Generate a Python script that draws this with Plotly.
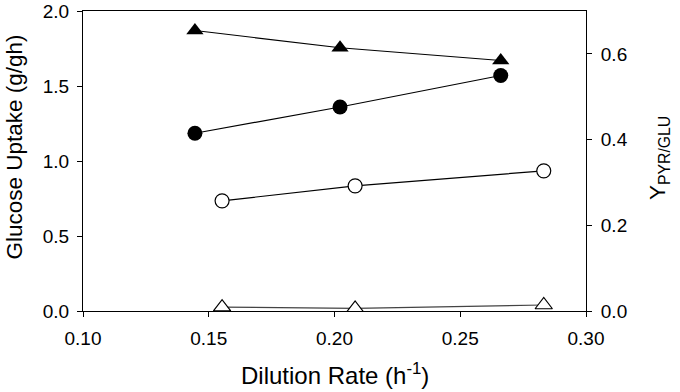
import plotly.graph_objects as go

# Data
d_filled = [0.1445, 0.2022, 0.2661]
uptake_tri = [1.87, 1.755, 1.67]
uptake_circ = [1.185, 1.36, 1.57]
d_open = [0.1553, 0.2082, 0.2832]
yield_circ = [0.257, 0.292, 0.327]
yield_tri = [0.009, 0.006, 0.014]

x_ticks = [0.10, 0.15, 0.20, 0.25, 0.30]
y_ticks = [0.0, 0.5, 1.0, 1.5, 2.0]
y2_ticks = [0.0, 0.2, 0.4, 0.6]

FONT = "Liberation Sans, Arial, sans-serif"
W, H = 680, 392
L, R, T, B = 83, 94, 11, 81
PW, PH = W - L - R, H - T - B

fig = go.Figure()

line = dict(color="black", width=1.2)
fig.add_trace(go.Scatter(x=d_filled, y=uptake_tri, mode="lines+markers", line=line,
                         marker=dict(symbol="triangle-up", size=15, color="black"), yaxis="y"))
fig.add_trace(go.Scatter(x=d_filled, y=uptake_circ, mode="lines+markers", line=line,
                         marker=dict(symbol="circle", size=15, color="black"), yaxis="y"))
fig.add_trace(go.Scatter(x=d_open, y=yield_circ, mode="lines+markers", line=line,
                         marker=dict(symbol="circle", size=14, color="white",
                                     line=dict(color="black", width=1.2)), yaxis="y2"))
fig.add_trace(go.Scatter(x=d_open, y=yield_tri, mode="lines+markers", line=dict(color="#444", width=1.2),
                         marker=dict(symbol="triangle-up", size=15, color="white",
                                     line=dict(color="black", width=1.2)), yaxis="y2"))

common = dict(showline=True, linecolor="black", linewidth=1,
              ticks="outside", ticklen=5, tickcolor="black",
              showgrid=False, zeroline=False, automargin=False,
              ticklabeloverflow="allow",
              tickfont=dict(size=19, family=FONT))

fig.update_layout(
    width=W, height=H,
    margin=dict(l=L, r=R, t=T, b=B),
    paper_bgcolor="white", plot_bgcolor="white",
    showlegend=False,
    font=dict(family=FONT, color="black"),
    xaxis=dict(range=[0.10, 0.30], tickvals=x_ticks, ticktext=[f"{v:.2f}" for v in x_ticks],
               mirror=True, ticklabelstandoff=5, **common),
    yaxis=dict(range=[0, 2.0], tickvals=y_ticks, ticktext=[f"{v:.1f}" for v in y_ticks],
               ticklabelstandoff=4, **common),
    yaxis2=dict(range=[0, 0.7], tickvals=y2_ticks, ticktext=[f"{v:.1f}" for v in y2_ticks],
                overlaying="y", side="right", ticklabelstandoff=5, **common),
    annotations=[
        dict(text="Dilution Rate (h<sup>-1</sup>)", xref="paper", yref="paper",
             x=(335 - L) / PW, y=(H - B - 374) / PH, xanchor="center", yanchor="middle",
             showarrow=False, font=dict(size=24, family=FONT)),
        dict(text="Glucose Uptake (g/gh)", xref="paper", yref="paper",
             x=(14 - L) / PW, y=(H - B - 147.5) / PH, xanchor="center", yanchor="middle",
             textangle=-90, showarrow=False, font=dict(size=22.5, family=FONT)),
        dict(text="Y<sub>PYR/GLU</sub>", xref="paper", yref="paper",
             x=(659 - L) / PW, y=(H - B - 158) / PH, xanchor="center", yanchor="middle",
             textangle=-90, showarrow=False, font=dict(size=22.5, family=FONT)),
    ],
)

fig.write_html("out.html", config={"displayModeBar": False},
               post_script="document.body.style.margin='0';document.body.style.overflow='hidden';")
